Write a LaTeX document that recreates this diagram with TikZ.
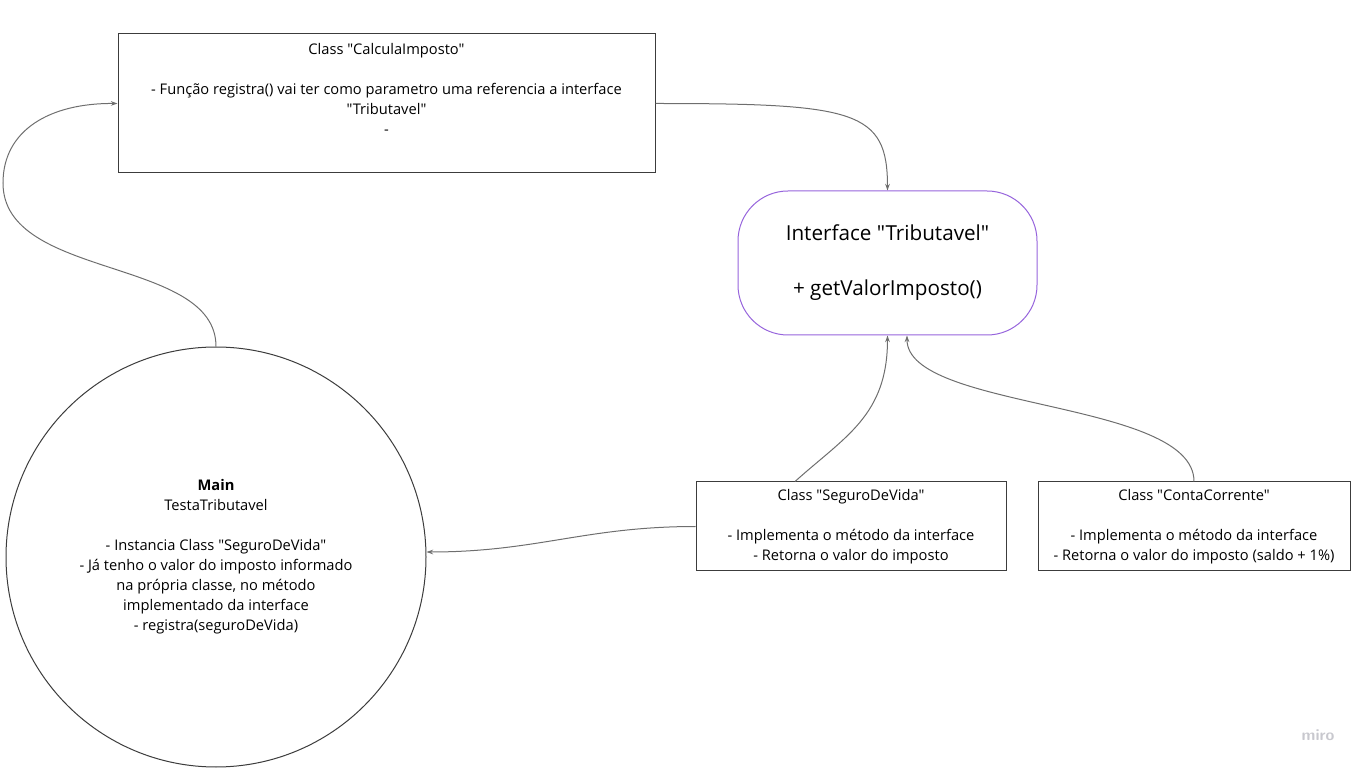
\documentclass[tikz,border=0pt]{standalone}
\usepackage{fontspec}
\setmainfont{Open Sans}[Ligatures=TeXOff]
\usetikzlibrary{calc,arrows.meta}

\definecolor{boxline}{RGB}{60,60,60}
\definecolor{wirecol}{RGB}{110,110,110}
\definecolor{ifaceline}{RGB}{150,100,220}
\definecolor{logocol}{RGB}{200,200,206}

\begin{document}
\begin{tikzpicture}[x=0.75pt,y=-0.75pt,
    classbox/.style={draw=boxline,line width=0.75pt,inner sep=0pt},
    txt/.style={align=center,inner sep=0pt,font=\fontsize{11}{15}\selectfont},
    wire/.style={draw=wirecol,line width=0.75pt,-{Stealth[length=5pt,width=3.5pt]}}]

% Fix the page size.
\useasboundingbox (0,0) rectangle (1372,773);

% Draw class CalculaImposto (text sits at the top of the box).
\node[classbox,minimum width=402.75pt,minimum height=104.25pt]
    (calc) at (386.5,103.5) {};
\node[txt,anchor=north] (calctext) at (386.5,43)
    {Class "CalculaImposto"\\[15pt]
     - Função registra() vai ter como parametro uma referencia a interface\\
     "Tributavel"\\
     -};

% Draw the interface.
\node[draw=ifaceline,line width=0.75pt,rounded corners=37.5pt,
      minimum width=224.25pt,minimum height=108pt,
      align=center,font=\fontsize{15.5}{20.6}\selectfont]
    (iface) at (887.5,263)
    {Interface "Tributavel"\\[20.6pt] + getValorImposto()};

% Draw the two classes below it.
\node[classbox,txt,minimum width=232.5pt,minimum height=66.75pt]
    (seguro) at (851,526.5)
    {Class "SeguroDeVida"\\[15pt]
     - Implementa o método da interface\\
     - Retorna o valor do imposto};
\node[classbox,txt,minimum width=234pt,minimum height=66.75pt]
    (conta) at (1194,526.5)
    {Class "ContaCorrente"\\[15pt]
     - Implementa o método da interface\\
     - Retorna o valor do imposto (saldo + 1\%)};

% Draw main as a circle.
\node[draw=boxline,line width=0.75pt,circle,minimum size=315pt,txt]
    (main) at (216,557)
    {\textbf{Main}\\
     TestaTributavel\\[15pt]
     - Instancia Class "SeguroDeVida"\\
     - Já tenho o valor do imposto informado\\
     na própria classe, no método\\
     implementado da interface\\
     - registra(seguroDeVida)};

% Connectors.
\draw[wire]
    (calc.east) .. controls +(200,0) and +(0,-80) .. (iface.north);
\draw[wire]
    % start on top of the circle, swing out to the left edge
    (main.north) .. controls +(0,-90) and (3,280) .. (3,183)
    .. controls (3,130) and (50,103) .. (calc.west);
\draw[wire]
    ($(seguro.north west)!0.32!(seguro.north east)$)
    .. controls +(50,-45) and +(0,80) .. (iface.south);
\draw[wire]
    (conta.north) .. controls +(0,-82) and +(0,75) .. ($(iface.south)+(19.5,0)$);
\draw[wire]
    (seguro.west) .. controls +(-110,0) and +(110,0) .. ($(main.east)+(0,-5)$);

% miro logo.
\node[text=logocol,font=\sffamily\bfseries\fontsize{12}{14}\selectfont]
    (logo) at (1318,735) {miro};

\end{tikzpicture}
\end{document}
